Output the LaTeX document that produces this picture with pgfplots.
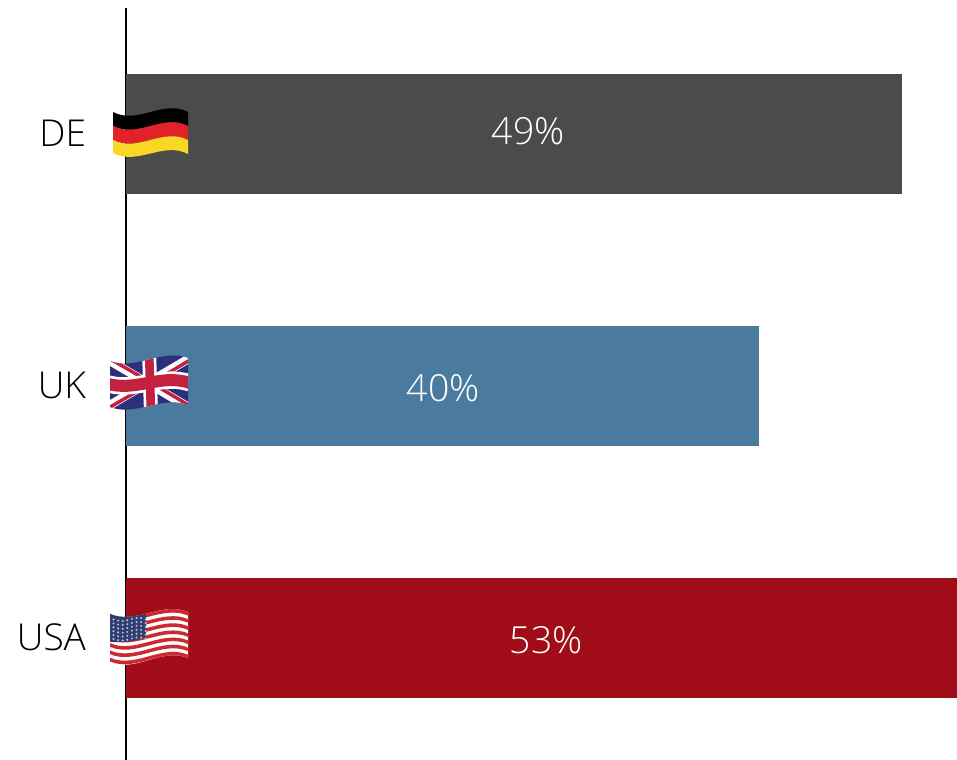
\documentclass[border=0pt]{standalone}
\usepackage{fontspec}
\setmainfont{Open Sans Light}
\usepackage{pgfplots}
\pgfplotsset{compat=1.18}
\definecolor{barDE}{HTML}{4B4B49}
\definecolor{barUK}{HTML}{4B7A9F}
\definecolor{barUS}{HTML}{A00C17}
\definecolor{flagRed}{HTML}{E32129}
\definecolor{flagGold}{HTML}{F8D824}
\definecolor{ukBlue}{HTML}{2B2F7C}
\definecolor{ukRed}{HTML}{C4203F}
\definecolor{usBlue}{HTML}{2F3F73}
\definecolor{usRed}{HTML}{CC2A30}
% wavy strip: x range #1..#2, top edge from #3 to #4, bottom edge from #5 to #6, wave amplitude #7
\newcommand{\wavestrip}[7]{%
  (#1,#3) .. controls ({#1+(#2-#1)*0.33},{#3+#7}) and ({#1+(#2-#1)*0.67},{#4-#7}) .. (#2,#4)
  -- (#2,#6) .. controls ({#1+(#2-#1)*0.67},{#6-#7}) and ({#1+(#2-#1)*0.33},{#5+#7}) .. (#1,#5) -- cycle}
\begin{document}
\begin{tikzpicture}
\useasboundingbox (0pt,0pt) rectangle (717.75pt,570pt);
\begin{axis}[
  at={(94.5pt,0pt)}, anchor=south west,
  scale only axis, width=623.25pt, height=564pt,
  xmin=0, xmax=52.5, ymin=-0.484, ymax=2.5,
  axis y line=left, axis x line=none,
  axis line style={-, black, line width=1.1pt},
  ytick={0,1,2}, yticklabels={USA,UK,DE},
  major tick length=0pt,
  yticklabel style={font=\fontsize{27.8}{30}\selectfont, anchor=east, xshift=-26.5pt, yshift=0.6pt},
  xbar, bar shift=0pt, bar width=89.5pt,
  clip=true,
]
\addplot[draw=none, fill=barUS] coordinates {(53,0)};
\addplot[draw=none, fill=barUK] coordinates {(40,1)};
\addplot[draw=none, fill=barDE] coordinates {(49,2)};
\node[text=white, font=\fontsize{28}{30}\selectfont] at (axis cs:26.55,-0.008) {53\%};
\node[text=white, font=\fontsize{28}{30}\selectfont] at (axis cs:20.05,0.992) {40\%};
\node[text=white, font=\fontsize{28}{30}\selectfont] at (axis cs:25.42,2.012) {49\%};
\end{axis}
\begin{scope}[yshift=570pt,x=0.75pt,y=-0.75pt]
% German flag
\fill \wavestrip{113}{188}{112}{112}{126}{126}{13};
\fill[flagRed] \wavestrip{113}{188}{126}{126}{140}{140}{13};
\fill[flagGold] \wavestrip{113}{188}{140}{140}{153}{154}{13};
% British flag
\begin{scope}
\clip \wavestrip{110}{188}{361}{358}{407}{405}{10};
\fill[ukBlue] (105,350) rectangle (190,412);
\draw[white,line width=6.5pt] (105,358) -- (190,408) (105,408) -- (190,358);
\draw[ukRed,line width=2.6pt] (105,356) -- (150,382) (190,360) -- (150,384) (105,410) -- (150,384) (190,406) -- (150,382);
\draw[white,line width=10.5pt] (149,350) -- (151,412);
\draw[white,line width=13pt] (105,383) .. controls (135,393) and (160,373) .. (190,383);
\draw[ukRed,line width=6.5pt] (149,350) -- (151,412);
\draw[ukRed,line width=9pt] (105,383) .. controls (135,393) and (160,373) .. (190,383);
\end{scope}
% American flag
\begin{scope}
\clip \wavestrip{110}{188}{614}{612}{662}{658}{11};
\fill[white] (105,605) rectangle (190,670);
\foreach \s in {0,2,4,6,8,10,12}{
  \fill[usRed] \wavestrip{110}{188}{614+\s*3.65}{612+\s*3.56}{617.65+\s*3.65}{615.56+\s*3.56}{11};
}
\fill[usBlue] (105,605) -- (146,605) -- (146,637) .. controls (135,641) and (122,644) .. (105,641) -- cycle;
\foreach \c in {0,...,7}{
  \foreach \r in {0,...,5}{
    \fill[white!70!usBlue] ({113.5+\c*4.6},{619.5+\r*3.9+1.5*sin(\c*50)}) circle (1.1);
  }
}
\end{scope}
\end{scope}
\end{tikzpicture}
\end{document}
